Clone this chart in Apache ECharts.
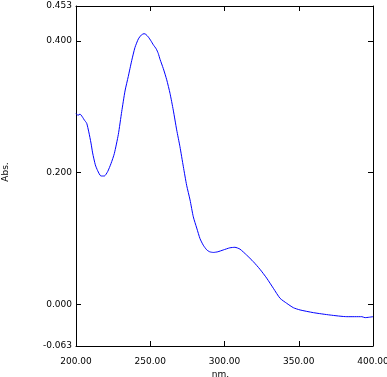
<!DOCTYPE html>
<html>
<head>
<meta charset="utf-8">
<script src="https://cdn.jsdelivr.net/npm/echarts@6/dist/echarts.min.js"></script>
<style>
html,body{margin:0;padding:0;background:#fff;}
#spec{width:387px;height:377px;}
</style>
</head>
<body>
<div id="spec"></div>
<script>
// 吸收光谱 (nm / Abs.)
var wavelength = [200.0,201.3,202.7,203.4,204.5,205.6,207.2,208.6,210.1,211.2,213.0,214.6,216.8,219.1,221.3,223.6,225.8,228.5,230.8,233.0,235.2,237.5,239.7,242.0,244.0,245.8,247.0,248.7,250.5,252.1,254.0,255.4,256.6,258.8,261.1,263.3,265.5,267.8,270.0,272.3,274.5,276.8,279.0,281.3,283.5,285.7,288.0,290.0,292.5,295.5,299.1,303.6,307.0,310.4,314.9,319.4,323.9,328.4,332.9,337.4,341.9,346.4,350.9,359.9,371.1,382.4,392.5,394.6,400.0];
var absorbance = [0.290,0.287,0.289,0.2875,0.284,0.280,0.275,0.262,0.245,0.230,0.212,0.203,0.195,0.195,0.2016,0.214,0.229,0.258,0.293,0.324,0.346,0.370,0.390,0.403,0.409,0.411,0.410,0.406,0.400,0.394,0.388,0.381,0.372,0.358,0.341,0.3205,0.295,0.265,0.2395,0.209,0.181,0.1586,0.133,0.116,0.100,0.090,0.083,0.080,0.079,0.080,0.0827,0.086,0.0868,0.084,0.075,0.065,0.0534,0.040,0.0246,0.0094,0.0018,-0.0049,-0.0083,-0.0124,-0.016,-0.0185,-0.0185,-0.020,-0.0185];
var yLabels = [-0.063,0.000,0.200,0.400,0.453];
var yTicks = [0.000,0.200,0.400];
var xTicks = [250,300,350];

var chart = echarts.init(document.getElementById("spec"));

var pts = [];
for (var i = 0; i < wavelength.length; i++) {
	pts.push([wavelength[i], absorbance[i]]);
}

var txt = {color:'#000', fontFamily:'DejaVu Sans', fontSize:9};
var frame = {show:true, onZero:false, lineStyle:{color:'#000', width:1}};

option = {
	animation: false,
	grid: {left:76, top:6, width:297, height:340, containLabel:false, outerBoundsMode:'none'},
	xAxis: [
		{
			type: 'value', min: 200, max: 400, interval: 50,
			name: 'nm.', nameLocation: 'middle', nameGap: 24, nameMoveOverlap: false,
			nameTextStyle: {color:'#000', fontFamily:'DejaVu Sans', fontSize:9, padding:[0,8,0,0]},
			axisLine: frame,
			axisTick: {show:true, inside:true, length:5, customValues:xTicks, lineStyle:{color:'#000'}},
			axisLabel: Object.assign({margin:11, showMinLabel:true, showMaxLabel:true,
				formatter: function(v){ return v.toFixed(2); }}, txt),
			splitLine: {show:false}
		},
		{
			type: 'value', position: 'top', min: 200, max: 400, interval: 50,
			axisLine: frame,
			axisTick: {show:true, inside:true, length:5, customValues:xTicks, lineStyle:{color:'#000'}},
			axisLabel: {show:false},
			splitLine: {show:false}
		}
	],
	yAxis: [
		{
			type: 'value', min: -0.063, max: 0.453,
			name: 'Abs.', nameLocation: 'middle', nameGap: 66, nameRotate: 90, nameMoveOverlap: false,
			nameTextStyle: {color:'#000', fontFamily:'DejaVu Sans', fontSize:9, padding:[0,0,0,8]},
			axisLine: frame,
			axisTick: {show:true, inside:true, length:5, customValues:yTicks, lineStyle:{color:'#000'}},
			axisLabel: Object.assign({margin:4, customValues:yLabels,
				formatter: function(v){ return v.toFixed(3); }}, txt),
			splitLine: {show:false}
		},
		{
			type: 'value', position: 'right', min: -0.063, max: 0.453,
			axisLine: frame,
			axisTick: {show:true, inside:true, length:5, customValues:yTicks, lineStyle:{color:'#000'}},
			axisLabel: {show:false},
			splitLine: {show:false}
		}
	],
	series: [
		{
			type: 'line',
			data: pts,
			showSymbol: false,
			smooth: 0.2,
			lineStyle: {color:'#0000ff', width:1},
			itemStyle: {color:'#0000ff'}
		}
	]
};

chart.setOption(option);
</script>
</body>
</html>
